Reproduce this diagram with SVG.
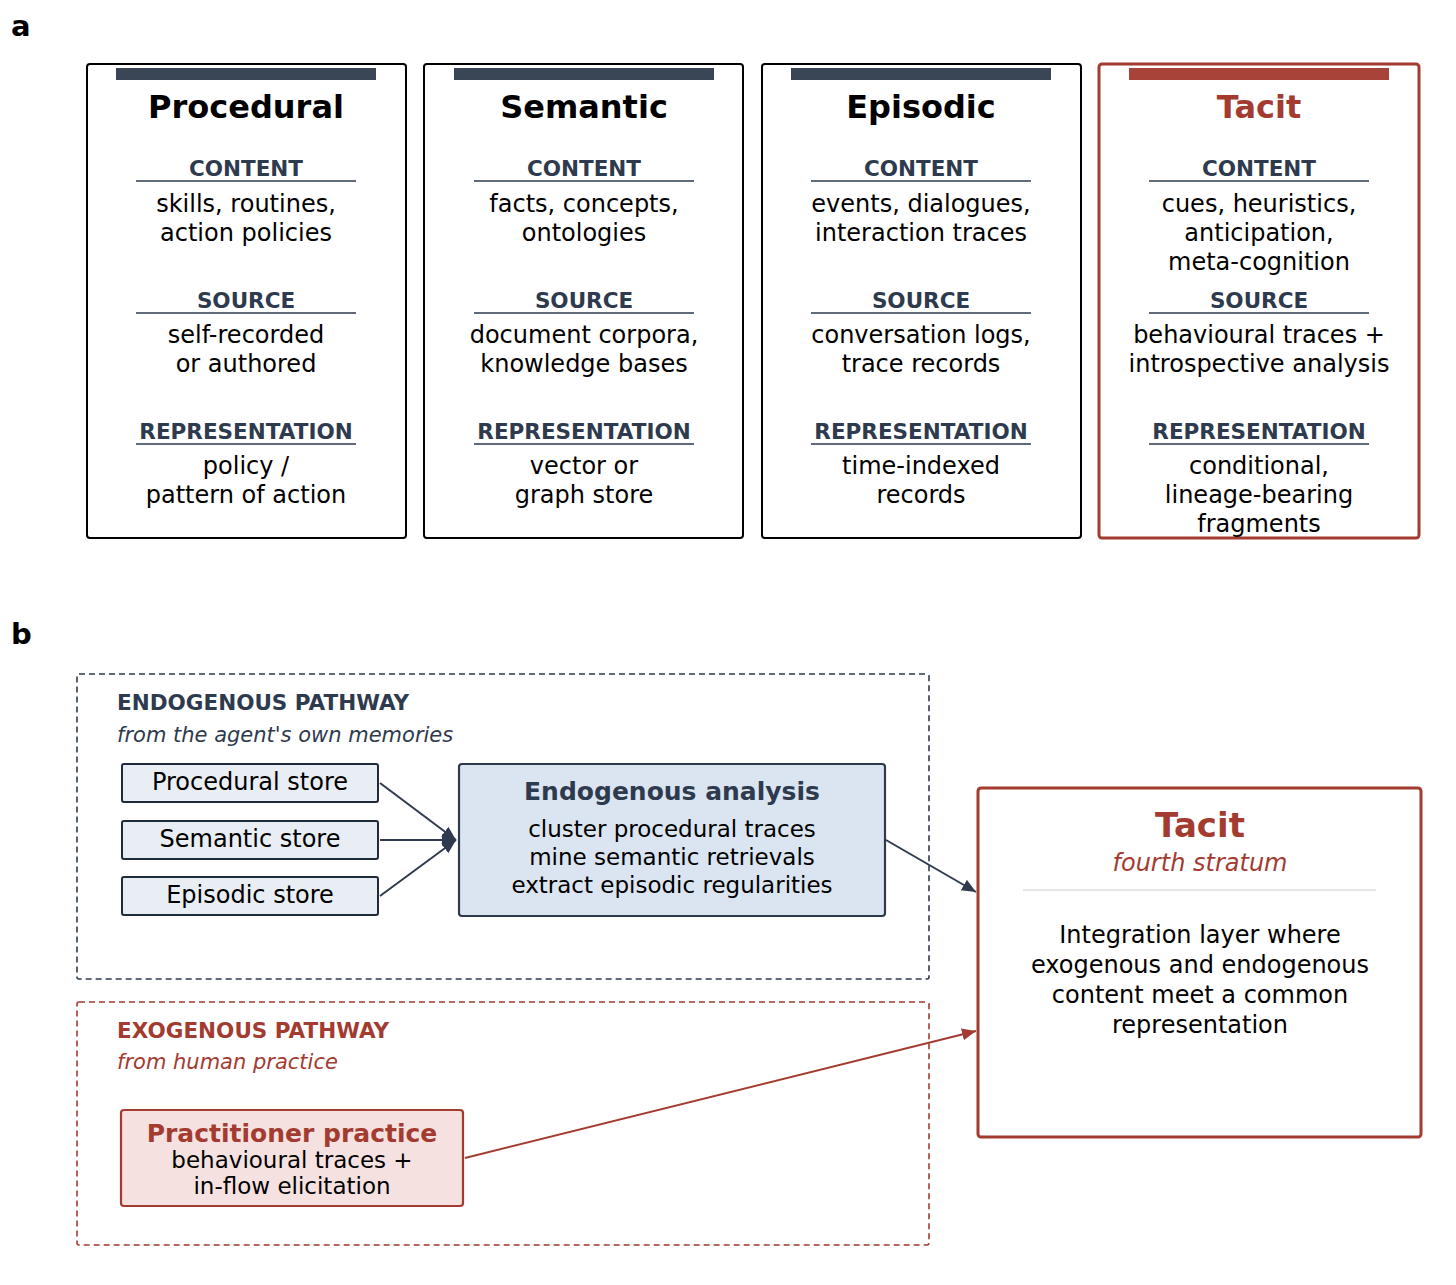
<svg xmlns="http://www.w3.org/2000/svg" width="1456" height="1285" viewBox="0 0 1456 1285">
<style>
text{font-family:"DejaVu Sans","Liberation Sans",sans-serif;text-anchor:middle}
.lbl{font-size:29px;font-weight:bold;text-anchor:start;fill:#000}
.card{fill:#fff;stroke:#000;stroke-width:2}
.cardr{fill:#fff;stroke:#a33b30;stroke-width:3}
.bar{fill:#3a4556}
.barr{fill:#a8433a}
.ttl{font-size:32px;font-weight:bold;fill:#000}
.ttlr{font-size:32px;font-weight:bold;fill:#a33b30}
.hd{font-size:21.5px;font-weight:bold;fill:#2e3a4d}
.ul{stroke:#2e3a4d;stroke-width:1.6}
.tx{font-size:24px;fill:#000}
.tx23{font-size:23px;fill:#000}
.dash{fill:none;stroke:#2e3a4d;stroke-width:1.6;stroke-dasharray:6 4}
.dashr{fill:none;stroke:#a33b30;stroke-width:1.6;stroke-dasharray:6 4}
.phd{font-size:21.5px;font-weight:bold;text-anchor:start;fill:#2e3a4d}
.phdr{font-size:21.5px;font-weight:bold;text-anchor:start;fill:#a33b30}
.pit{font-size:21px;font-style:italic;text-anchor:start;fill:#2e3a4d}
.pitr{font-size:21px;font-style:italic;text-anchor:start;fill:#a33b30}
.store{fill:#e9eef5;stroke:#1f2a3a;stroke-width:2}
.ana{fill:#dae5f1;stroke:#2e3a4d;stroke-width:2.2}
.prac{fill:#f5e2e0;stroke:#a33b30;stroke-width:2.2}
.conn{stroke:#2e3a4d;stroke-width:2;fill:none}
.connr{stroke:#a33b30;stroke-width:2;fill:none}
</style>
<defs>
<marker id="ah" markerUnits="userSpaceOnUse" markerWidth="16" markerHeight="14" refX="14" refY="6" orient="auto">
<path d="M0,0 L14,6 L0,12 Z" fill="#2e3a4d"/>
</marker>
<marker id="ahr" markerUnits="userSpaceOnUse" markerWidth="16" markerHeight="14" refX="14" refY="6" orient="auto">
<path d="M0,0 L14,6 L0,12 Z" fill="#a33b30"/>
</marker>
</defs>

<text class="lbl" x="11" y="36">a</text>
<text class="lbl" x="11" y="644">b</text>

<g id="card-procedural">
<rect class="card" x="87" y="64" width="319" height="474" rx="3"/>
<rect class="bar" x="116" y="68" width="260" height="12"/>
<text class="ttl" x="246" y="118">Procedural</text>
<text class="hd" x="246" y="176">CONTENT</text>
<line class="ul" x1="136" y1="181" x2="356" y2="181"/>
<text class="tx" x="246" y="212">skills, routines,</text>
<text class="tx" x="246" y="241">action policies</text>
<text class="hd" x="246" y="308">SOURCE</text>
<line class="ul" x1="136" y1="313" x2="356" y2="313"/>
<text class="tx" x="246" y="343">self-recorded</text>
<text class="tx" x="246" y="372">or authored</text>
<text class="hd" x="246" y="439">REPRESENTATION</text>
<line class="ul" x1="136" y1="444" x2="356" y2="444"/>
<text class="tx" x="246" y="474">policy /</text>
<text class="tx" x="246" y="503">pattern of action</text>
</g>

<g id="card-semantic">
<rect class="card" x="424" y="64" width="319" height="474" rx="3"/>
<rect class="bar" x="454" y="68" width="260" height="12"/>
<text class="ttl" x="584" y="118">Semantic</text>
<text class="hd" x="584" y="176">CONTENT</text>
<line class="ul" x1="474" y1="181" x2="694" y2="181"/>
<text class="tx" x="584" y="212">facts, concepts,</text>
<text class="tx" x="584" y="241">ontologies</text>
<text class="hd" x="584" y="308">SOURCE</text>
<line class="ul" x1="474" y1="313" x2="694" y2="313"/>
<text class="tx" x="584" y="343">document corpora,</text>
<text class="tx" x="584" y="372">knowledge bases</text>
<text class="hd" x="584" y="439">REPRESENTATION</text>
<line class="ul" x1="474" y1="444" x2="694" y2="444"/>
<text class="tx" x="584" y="474">vector or</text>
<text class="tx" x="584" y="503">graph store</text>
</g>

<g id="card-episodic">
<rect class="card" x="762" y="64" width="319" height="474" rx="3"/>
<rect class="bar" x="791" y="68" width="260" height="12"/>
<text class="ttl" x="921" y="118">Episodic</text>
<text class="hd" x="921" y="176">CONTENT</text>
<line class="ul" x1="811" y1="181" x2="1031" y2="181"/>
<text class="tx" x="921" y="212">events, dialogues,</text>
<text class="tx" x="921" y="241">interaction traces</text>
<text class="hd" x="921" y="308">SOURCE</text>
<line class="ul" x1="811" y1="313" x2="1031" y2="313"/>
<text class="tx" x="921" y="343">conversation logs,</text>
<text class="tx" x="921" y="372">trace records</text>
<text class="hd" x="921" y="439">REPRESENTATION</text>
<line class="ul" x1="811" y1="444" x2="1031" y2="444"/>
<text class="tx" x="921" y="474">time-indexed</text>
<text class="tx" x="921" y="503">records</text>
</g>

<g id="card-tacit">
<rect class="cardr" x="1099" y="64" width="320" height="474" rx="3"/>
<rect class="barr" x="1129" y="68" width="260" height="12"/>
<text class="ttlr" x="1259" y="118">Tacit</text>
<text class="hd" x="1259" y="176">CONTENT</text>
<line class="ul" x1="1149" y1="181" x2="1369" y2="181"/>
<text class="tx" x="1259" y="212">cues, heuristics,</text>
<text class="tx" x="1259" y="241">anticipation,</text>
<text class="tx" x="1259" y="270">meta-cognition</text>
<text class="hd" x="1259" y="308">SOURCE</text>
<line class="ul" x1="1149" y1="313" x2="1369" y2="313"/>
<text class="tx" x="1259" y="343">behavioural traces +</text>
<text class="tx" x="1259" y="372">introspective analysis</text>
<text class="hd" x="1259" y="439">REPRESENTATION</text>
<line class="ul" x1="1149" y1="444" x2="1369" y2="444"/>
<text class="tx" x="1259" y="474">conditional,</text>
<text class="tx" x="1259" y="503">lineage-bearing</text>
<text class="tx" x="1259" y="532">fragments</text>
</g>

<g id="endogenous-pathway">
<rect class="dash" x="77" y="674" width="852" height="305" rx="2"/>
<text class="phd" x="117" y="710">ENDOGENOUS PATHWAY</text>
<text class="pit" x="117" y="742">from the agent's own memories</text>
</g>

<g id="exogenous-pathway">
<rect class="dashr" x="77" y="1002" width="852" height="243" rx="2"/>
<text class="phdr" x="117" y="1038">EXOGENOUS PATHWAY</text>
<text class="pitr" x="117" y="1069">from human practice</text>
</g>

<g id="procedural-store">
<rect class="store" x="122" y="764" width="256" height="38" rx="2"/>
<text class="tx" x="250" y="790">Procedural store</text>
</g>
<g id="semantic-store">
<rect class="store" x="122" y="821" width="256" height="38" rx="2"/>
<text class="tx" x="250" y="847">Semantic store</text>
</g>
<g id="episodic-store">
<rect class="store" x="122" y="877" width="256" height="38" rx="2"/>
<text class="tx" x="250" y="903">Episodic store</text>
</g>

<g id="endogenous-analysis">
<rect class="ana" x="459" y="764" width="426" height="152" rx="3"/>
<text x="672" y="800" style="font-size:25px;font-weight:bold;fill:#2e3a4d">Endogenous analysis</text>
<text class="tx23" x="672" y="837">cluster procedural traces</text>
<text class="tx23" x="672" y="865">mine semantic retrievals</text>
<text class="tx23" x="672" y="893">extract episodic regularities</text>
</g>

<g id="practitioner-practice">
<rect class="prac" x="121" y="1110" width="342" height="96" rx="3"/>
<text x="292" y="1142" style="font-size:25px;font-weight:bold;fill:#a33b30">Practitioner practice</text>
<text class="tx23" x="292" y="1168">behavioural traces +</text>
<text class="tx23" x="292" y="1194">in-flow elicitation</text>
</g>

<g id="tacit-stratum">
<rect class="cardr" x="978" y="788" width="443" height="349" rx="3"/>
<text x="1200" y="837" style="font-size:34px;font-weight:bold;fill:#a33b30">Tacit</text>
<text x="1200" y="871" style="font-size:24px;font-style:italic;fill:#a33b30">fourth stratum</text>
<line x1="1023" y1="890" x2="1376" y2="890" stroke="#cccccc" stroke-width="1.2"/>
<text class="tx" x="1200" y="943">Integration layer where</text>
<text class="tx" x="1200" y="973">exogenous and endogenous</text>
<text class="tx" x="1200" y="1003">content meet a common</text>
<text class="tx" x="1200" y="1033">representation</text>
</g>

<g id="connectors">
<line class="conn" x1="380" y1="783" x2="456" y2="840" marker-end="url(#ah)"/>
<line class="conn" x1="380" y1="840" x2="456" y2="840" marker-end="url(#ah)"/>
<line class="conn" x1="380" y1="896" x2="456" y2="840" marker-end="url(#ah)"/>
<line class="conn" x1="886" y1="840" x2="976" y2="892" marker-end="url(#ah)"/>
<line class="connr" x1="465" y1="1158" x2="976" y2="1031" marker-end="url(#ahr)"/>
</g>
</svg>
